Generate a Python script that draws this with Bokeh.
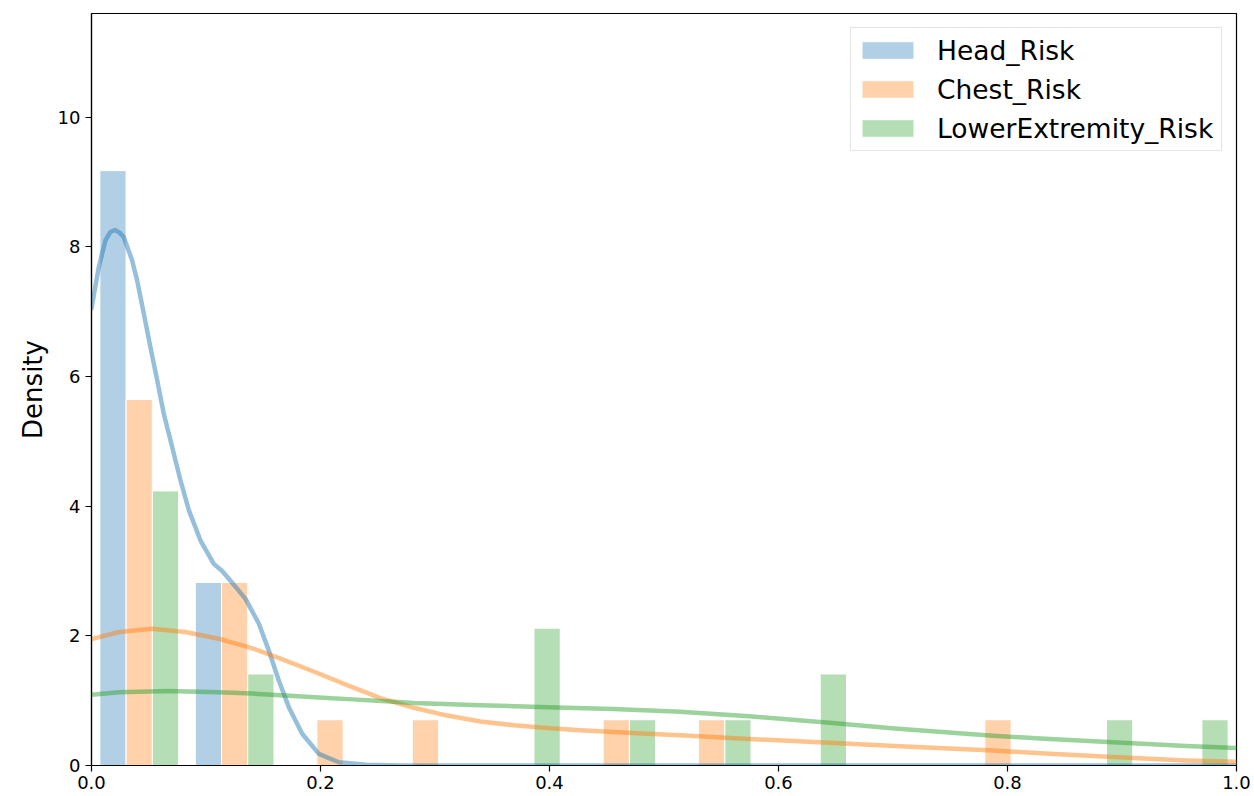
import numpy as np
from bokeh.plotting import figure
from bokeh.models import FixedTicker, NumeralTickFormatter
from bokeh.embed import file_html
from bokeh.resources import INLINE

# Histogram counts per bin (12 equal bins on [0, 1]) for each risk column
series_names = ["Head_Risk", "Chest_Risk", "LowerExtremity_Risk"]
head_counts = [13, 4, 0, 0, 0, 0, 0, 0, 0, 0, 0, 0]
chest_counts = [8, 4, 1, 1, 0, 1, 1, 0, 0, 1, 0, 0]
lower_counts = [6, 2, 0, 0, 3, 1, 1, 2, 0, 0, 1, 1]

# Kernel density curves (x, density)
head_kde_x = [0.0, 0.0064, 0.0122, 0.0165, 0.0204, 0.0245, 0.0282, 0.0355, 0.0399,
              0.0457, 0.0515, 0.0574, 0.0631, 0.0705, 0.0777, 0.085, 0.0952, 0.1068,
              0.1141, 0.1214, 0.1345, 0.1461, 0.1549, 0.1636, 0.1723, 0.184, 0.1985,
              0.216, 0.24, 0.27, 0.35, 0.5, 0.7, 0.85, 1.0]
head_kde_y = [7.05, 7.69, 8.10, 8.23, 8.26, 8.22, 8.15, 7.79, 7.48,
              6.97, 6.45, 5.94, 5.43, 4.91, 4.40, 3.94, 3.47, 3.11,
              3.00, 2.85, 2.57, 2.19, 1.77, 1.31, 0.90, 0.49, 0.18,
              0.05, 0.01, 0.0, 0.0, 0.0, 0.0, 0.0, 0.0]

chest_kde_x = [0.0, 0.024, 0.053, 0.082, 0.111, 0.140, 0.165, 0.194, 0.2233, 0.2524,
               0.2815, 0.3107, 0.3397, 0.3688, 0.398, 0.427, 0.456, 0.4853, 0.5144,
               0.5743, 0.6444, 0.7016, 0.7875, 0.8288, 0.8923, 0.9559, 1.0]
chest_kde_y = [1.95, 2.06, 2.11, 2.06, 1.955, 1.81, 1.65, 1.45, 1.24, 1.04,
               0.89, 0.77, 0.68, 0.62, 0.58, 0.545, 0.515, 0.49, 0.465,
               0.41, 0.35, 0.30, 0.23, 0.19, 0.13, 0.077, 0.057]

lower_kde_x = [0.0, 0.024, 0.067, 0.111, 0.140, 0.169, 0.1985, 0.2277, 0.2568, 0.2815,
               0.3397, 0.398, 0.456, 0.5144, 0.5743, 0.6444, 0.7016, 0.7875, 0.8288,
               0.8923, 0.9559, 1.0]
lower_kde_y = [1.09, 1.13, 1.15, 1.13, 1.11, 1.08, 1.05, 1.02, 0.99, 0.965,
               0.93, 0.90, 0.87, 0.83, 0.76, 0.66, 0.57, 0.46, 0.415,
               0.36, 0.30, 0.27]

x_ticks = [0.0, 0.2, 0.4, 0.6, 0.8, 1.0]
y_ticks = [0, 2, 4, 6, 8, 10]

colors = ["#1f77b4", "#ff7f0e", "#2ca02c"]
FONT = "DejaVu Sans"

n_bins = len(head_counts)
edges = np.linspace(0.0, 1.0, n_bins + 1)
bin_w = edges[1] - edges[0]
shrink = 0.825
sub_w = bin_w * shrink / 3

p = figure(width=1254, height=796, x_range=(0, 1), y_range=(0, 11.6),
           output_backend="svg", toolbar_location=None,
           min_border_left=91, min_border_right=18, min_border_top=13,
           min_border_bottom=31)

# dodged histogram bars, one set per column, as densities
all_counts = [head_counts, chest_counts, lower_counts]
for k, (name, counts, col) in enumerate(zip(series_names, all_counts, colors)):
    counts = np.asarray(counts, dtype=float)
    density = counts / (counts.sum() * bin_w)
    centers = edges[:-1] + bin_w * (1 - shrink) / 2 + sub_w * (k + 0.5)
    mask = counts > 0
    p.vbar(x=centers[mask], top=density[mask], bottom=0, width=sub_w,
           fill_color=col, fill_alpha=0.35, line_color="white", line_width=1,
           legend_label=name)

# density curves on top of the bars
for xs, ys, col in [(head_kde_x, head_kde_y, colors[0]),
                    (chest_kde_x, chest_kde_y, colors[1]),
                    (lower_kde_x, lower_kde_y, colors[2])]:
    p.line(xs, ys, line_color=col, line_alpha=0.47, line_width=4.5,
           line_join="round", line_cap="round")

# axes
p.xgrid.visible = False
p.ygrid.visible = False
p.xaxis.ticker = FixedTicker(ticks=x_ticks)
p.yaxis.ticker = FixedTicker(ticks=y_ticks)
p.xaxis.formatter = NumeralTickFormatter(format="0.0")
p.yaxis.formatter = NumeralTickFormatter(format="0")
for ax in (p.xaxis, p.yaxis):
    ax.major_label_text_font = FONT
    ax.major_label_text_font_size = "18px"
    ax.major_label_text_color = "black"
    ax.major_tick_out = 6
    ax.major_tick_in = 0
    ax.minor_tick_out = 0
    ax.minor_tick_in = 0
    ax.major_tick_line_color = "black"
    ax.major_tick_line_width = 1.2
    ax.axis_line_color = "black"
    ax.axis_line_width = 1.2
p.xaxis.major_label_standoff = 4
p.yaxis.major_label_standoff = 5
p.yaxis.axis_label = "Density"
p.yaxis.axis_label_text_font = FONT
p.yaxis.axis_label_text_font_size = "26px"
p.yaxis.axis_label_text_font_style = "normal"
p.yaxis.axis_label_text_color = "black"
p.yaxis.axis_label_standoff = 7

p.outline_line_color = "black"
p.outline_line_width = 1.2
p.outline_line_alpha = 1.0

# legend
lg = p.legend[0]
lg.location = "top_right"
lg.margin = 14
lg.padding = 4
lg.spacing = 3
lg.glyph_width = 65
lg.glyph_height = 22
lg.label_standoff = 17
lg.label_height = 36
lg.label_width = 280
lg.label_text_font = FONT
lg.label_text_font_size = "26.5px"
lg.label_text_color = "black"
lg.border_line_color = "#cccccc"
lg.border_line_width = 1
lg.background_fill_alpha = 0.8

open("out.html", "w").write(file_html(p, INLINE))
